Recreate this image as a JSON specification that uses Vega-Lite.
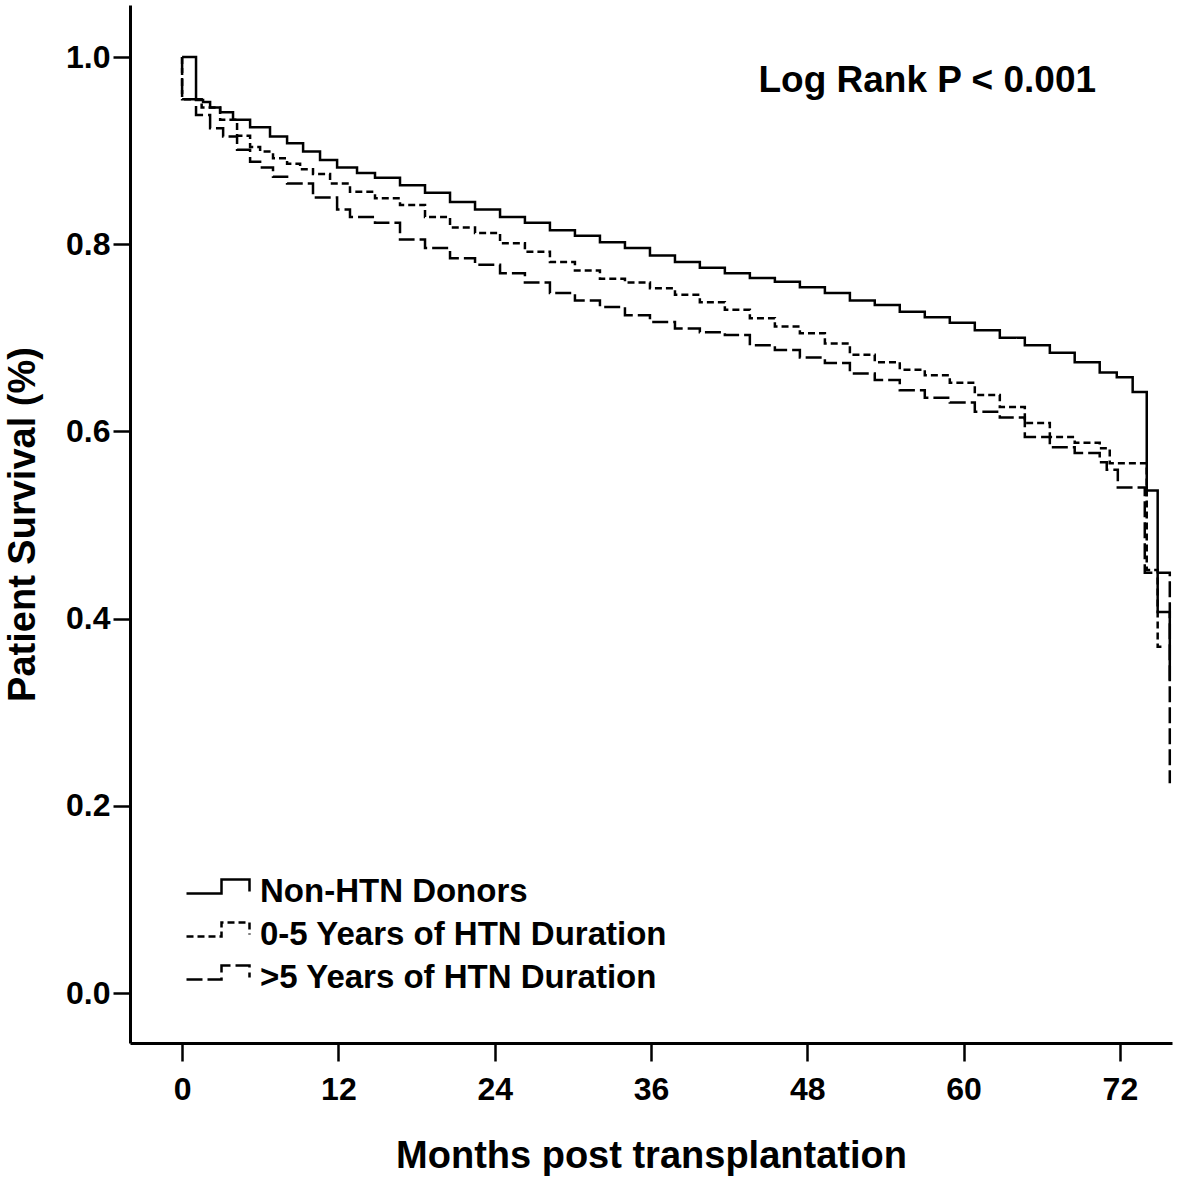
{
  "$schema": "https://vega.github.io/schema/vega-lite/v6.json",
  "width": 1042,
  "height": 1038,
  "autosize": {"type": "none"},
  "padding": {"left": 130, "top": 5, "right": 9, "bottom": 136},
  "background": "white",
  "config": {
    "view": {"stroke": null},
    "font": "Liberation Sans",
    "axis": {
      "grid": false,
      "domainColor": "black",
      "domainWidth": 3,
      "tickColor": "black",
      "tickWidth": 2.5,
      "labelColor": "black",
      "labelFont": "Liberation Sans",
      "labelFontWeight": "bold",
      "labelFontSize": 32,
      "titleColor": "black",
      "titleFont": "Liberation Sans",
      "titleFontWeight": "bold",
      "titleFontSize": 38
    }
  },
  "layer": [
    {
      "data": {
        "values": [
          {"g": "Non-HTN Donors", "t": 0, "s": 1.0},
          {"g": "Non-HTN Donors", "t": 1.07, "s": 0.954},
          {"g": "Non-HTN Donors", "t": 1.61, "s": 0.952},
          {"g": "Non-HTN Donors", "t": 2.15, "s": 0.946},
          {"g": "Non-HTN Donors", "t": 2.92, "s": 0.941},
          {"g": "Non-HTN Donors", "t": 3.91, "s": 0.933},
          {"g": "Non-HTN Donors", "t": 5.22, "s": 0.925},
          {"g": "Non-HTN Donors", "t": 6.75, "s": 0.915},
          {"g": "Non-HTN Donors", "t": 8.06, "s": 0.908},
          {"g": "Non-HTN Donors", "t": 9.29, "s": 0.899},
          {"g": "Non-HTN Donors", "t": 10.59, "s": 0.89},
          {"g": "Non-HTN Donors", "t": 11.9, "s": 0.882},
          {"g": "Non-HTN Donors", "t": 13.43, "s": 0.876},
          {"g": "Non-HTN Donors", "t": 14.81, "s": 0.871},
          {"g": "Non-HTN Donors", "t": 16.73, "s": 0.863},
          {"g": "Non-HTN Donors", "t": 18.65, "s": 0.855},
          {"g": "Non-HTN Donors", "t": 20.57, "s": 0.845},
          {"g": "Non-HTN Donors", "t": 22.49, "s": 0.837},
          {"g": "Non-HTN Donors", "t": 24.41, "s": 0.829},
          {"g": "Non-HTN Donors", "t": 26.32, "s": 0.823},
          {"g": "Non-HTN Donors", "t": 28.24, "s": 0.815},
          {"g": "Non-HTN Donors", "t": 30.16, "s": 0.809},
          {"g": "Non-HTN Donors", "t": 32.08, "s": 0.802},
          {"g": "Non-HTN Donors", "t": 34.0, "s": 0.796},
          {"g": "Non-HTN Donors", "t": 35.92, "s": 0.788},
          {"g": "Non-HTN Donors", "t": 37.84, "s": 0.781},
          {"g": "Non-HTN Donors", "t": 39.75, "s": 0.775},
          {"g": "Non-HTN Donors", "t": 41.67, "s": 0.769},
          {"g": "Non-HTN Donors", "t": 43.59, "s": 0.764},
          {"g": "Non-HTN Donors", "t": 45.51, "s": 0.76},
          {"g": "Non-HTN Donors", "t": 47.43, "s": 0.754},
          {"g": "Non-HTN Donors", "t": 49.35, "s": 0.748},
          {"g": "Non-HTN Donors", "t": 51.27, "s": 0.74},
          {"g": "Non-HTN Donors", "t": 53.18, "s": 0.735},
          {"g": "Non-HTN Donors", "t": 55.1, "s": 0.728},
          {"g": "Non-HTN Donors", "t": 57.02, "s": 0.722},
          {"g": "Non-HTN Donors", "t": 58.94, "s": 0.716},
          {"g": "Non-HTN Donors", "t": 60.86, "s": 0.708},
          {"g": "Non-HTN Donors", "t": 62.78, "s": 0.7},
          {"g": "Non-HTN Donors", "t": 64.7, "s": 0.692},
          {"g": "Non-HTN Donors", "t": 66.62, "s": 0.684},
          {"g": "Non-HTN Donors", "t": 68.53, "s": 0.674},
          {"g": "Non-HTN Donors", "t": 70.45, "s": 0.663},
          {"g": "Non-HTN Donors", "t": 71.76, "s": 0.658},
          {"g": "Non-HTN Donors", "t": 72.98, "s": 0.642},
          {"g": "Non-HTN Donors", "t": 74.06, "s": 0.537},
          {"g": "Non-HTN Donors", "t": 74.9, "s": 0.407},
          {"g": "Non-HTN Donors", "t": 75.83, "s": 0.334},

          {"g": "0-5 Years of HTN Duration", "t": 0, "s": 1.0},
          {"g": "0-5 Years of HTN Duration", "t": 0, "s": 0.955},
          {"g": "0-5 Years of HTN Duration", "t": 1.5, "s": 0.946},
          {"g": "0-5 Years of HTN Duration", "t": 2.92, "s": 0.933},
          {"g": "0-5 Years of HTN Duration", "t": 4.22, "s": 0.916},
          {"g": "0-5 Years of HTN Duration", "t": 5.22, "s": 0.904},
          {"g": "0-5 Years of HTN Duration", "t": 5.99, "s": 0.899},
          {"g": "0-5 Years of HTN Duration", "t": 6.98, "s": 0.892},
          {"g": "0-5 Years of HTN Duration", "t": 8.06, "s": 0.886},
          {"g": "0-5 Years of HTN Duration", "t": 9.06, "s": 0.88},
          {"g": "0-5 Years of HTN Duration", "t": 10.05, "s": 0.875},
          {"g": "0-5 Years of HTN Duration", "t": 11.36, "s": 0.865},
          {"g": "0-5 Years of HTN Duration", "t": 12.89, "s": 0.856},
          {"g": "0-5 Years of HTN Duration", "t": 14.81, "s": 0.849},
          {"g": "0-5 Years of HTN Duration", "t": 16.73, "s": 0.842},
          {"g": "0-5 Years of HTN Duration", "t": 18.65, "s": 0.829},
          {"g": "0-5 Years of HTN Duration", "t": 20.57, "s": 0.818},
          {"g": "0-5 Years of HTN Duration", "t": 22.49, "s": 0.812},
          {"g": "0-5 Years of HTN Duration", "t": 24.41, "s": 0.801},
          {"g": "0-5 Years of HTN Duration", "t": 26.32, "s": 0.792},
          {"g": "0-5 Years of HTN Duration", "t": 28.24, "s": 0.781},
          {"g": "0-5 Years of HTN Duration", "t": 30.16, "s": 0.772},
          {"g": "0-5 Years of HTN Duration", "t": 32.08, "s": 0.763},
          {"g": "0-5 Years of HTN Duration", "t": 34.0, "s": 0.759},
          {"g": "0-5 Years of HTN Duration", "t": 35.92, "s": 0.753},
          {"g": "0-5 Years of HTN Duration", "t": 37.84, "s": 0.746},
          {"g": "0-5 Years of HTN Duration", "t": 39.75, "s": 0.738},
          {"g": "0-5 Years of HTN Duration", "t": 41.67, "s": 0.73},
          {"g": "0-5 Years of HTN Duration", "t": 43.59, "s": 0.721},
          {"g": "0-5 Years of HTN Duration", "t": 45.51, "s": 0.712},
          {"g": "0-5 Years of HTN Duration", "t": 47.43, "s": 0.705},
          {"g": "0-5 Years of HTN Duration", "t": 49.35, "s": 0.694},
          {"g": "0-5 Years of HTN Duration", "t": 51.27, "s": 0.682},
          {"g": "0-5 Years of HTN Duration", "t": 53.18, "s": 0.674},
          {"g": "0-5 Years of HTN Duration", "t": 55.1, "s": 0.666},
          {"g": "0-5 Years of HTN Duration", "t": 57.02, "s": 0.66},
          {"g": "0-5 Years of HTN Duration", "t": 58.94, "s": 0.652},
          {"g": "0-5 Years of HTN Duration", "t": 60.86, "s": 0.639},
          {"g": "0-5 Years of HTN Duration", "t": 62.78, "s": 0.626},
          {"g": "0-5 Years of HTN Duration", "t": 64.7, "s": 0.609},
          {"g": "0-5 Years of HTN Duration", "t": 66.62, "s": 0.594},
          {"g": "0-5 Years of HTN Duration", "t": 68.53, "s": 0.588},
          {"g": "0-5 Years of HTN Duration", "t": 70.45, "s": 0.582},
          {"g": "0-5 Years of HTN Duration", "t": 71.22, "s": 0.566},
          {"g": "0-5 Years of HTN Duration", "t": 74.06, "s": 0.452},
          {"g": "0-5 Years of HTN Duration", "t": 74.9, "s": 0.37},
          {"g": "0-5 Years of HTN Duration", "t": 75.29, "s": 0.37},

          {"g": ">5 Years of HTN Duration", "t": 0, "s": 1.0},
          {"g": ">5 Years of HTN Duration", "t": 0, "s": 0.955},
          {"g": ">5 Years of HTN Duration", "t": 1.07, "s": 0.938},
          {"g": ">5 Years of HTN Duration", "t": 2.15, "s": 0.924},
          {"g": ">5 Years of HTN Duration", "t": 3.15, "s": 0.915},
          {"g": ">5 Years of HTN Duration", "t": 4.22, "s": 0.901},
          {"g": ">5 Years of HTN Duration", "t": 5.22, "s": 0.888},
          {"g": ">5 Years of HTN Duration", "t": 5.99, "s": 0.882},
          {"g": ">5 Years of HTN Duration", "t": 6.98, "s": 0.872},
          {"g": ">5 Years of HTN Duration", "t": 8.06, "s": 0.865},
          {"g": ">5 Years of HTN Duration", "t": 10.05, "s": 0.85},
          {"g": ">5 Years of HTN Duration", "t": 11.9, "s": 0.837},
          {"g": ">5 Years of HTN Duration", "t": 12.89, "s": 0.829},
          {"g": ">5 Years of HTN Duration", "t": 14.81, "s": 0.823},
          {"g": ">5 Years of HTN Duration", "t": 16.73, "s": 0.805},
          {"g": ">5 Years of HTN Duration", "t": 18.65, "s": 0.796},
          {"g": ">5 Years of HTN Duration", "t": 20.57, "s": 0.785},
          {"g": ">5 Years of HTN Duration", "t": 22.49, "s": 0.778},
          {"g": ">5 Years of HTN Duration", "t": 24.41, "s": 0.769},
          {"g": ">5 Years of HTN Duration", "t": 26.32, "s": 0.759},
          {"g": ">5 Years of HTN Duration", "t": 28.24, "s": 0.748},
          {"g": ">5 Years of HTN Duration", "t": 30.16, "s": 0.74},
          {"g": ">5 Years of HTN Duration", "t": 32.08, "s": 0.733},
          {"g": ">5 Years of HTN Duration", "t": 34.0, "s": 0.724},
          {"g": ">5 Years of HTN Duration", "t": 35.92, "s": 0.717},
          {"g": ">5 Years of HTN Duration", "t": 37.84, "s": 0.71},
          {"g": ">5 Years of HTN Duration", "t": 39.75, "s": 0.706},
          {"g": ">5 Years of HTN Duration", "t": 41.67, "s": 0.703},
          {"g": ">5 Years of HTN Duration", "t": 43.59, "s": 0.692},
          {"g": ">5 Years of HTN Duration", "t": 45.51, "s": 0.687},
          {"g": ">5 Years of HTN Duration", "t": 47.43, "s": 0.679},
          {"g": ">5 Years of HTN Duration", "t": 49.35, "s": 0.673},
          {"g": ">5 Years of HTN Duration", "t": 51.27, "s": 0.662},
          {"g": ">5 Years of HTN Duration", "t": 53.18, "s": 0.655},
          {"g": ">5 Years of HTN Duration", "t": 55.1, "s": 0.644},
          {"g": ">5 Years of HTN Duration", "t": 57.02, "s": 0.636},
          {"g": ">5 Years of HTN Duration", "t": 58.94, "s": 0.631},
          {"g": ">5 Years of HTN Duration", "t": 60.86, "s": 0.621},
          {"g": ">5 Years of HTN Duration", "t": 62.78, "s": 0.615},
          {"g": ">5 Years of HTN Duration", "t": 64.7, "s": 0.594},
          {"g": ">5 Years of HTN Duration", "t": 66.62, "s": 0.583},
          {"g": ">5 Years of HTN Duration", "t": 68.53, "s": 0.577},
          {"g": ">5 Years of HTN Duration", "t": 70.45, "s": 0.567},
          {"g": ">5 Years of HTN Duration", "t": 70.99, "s": 0.559},
          {"g": ">5 Years of HTN Duration", "t": 71.84, "s": 0.54},
          {"g": ">5 Years of HTN Duration", "t": 73.91, "s": 0.449},
          {"g": ">5 Years of HTN Duration", "t": 75.83, "s": 0.224}
        ]
      },
      "mark": {"type": "line", "interpolate": "step-after", "color": "black", "strokeWidth": 2.5},
      "encoding": {
        "x": {
          "field": "t",
          "type": "quantitative",
          "scale": {"domain": [-4, 76], "nice": false, "zero": false},
          "axis": {
            "values": [0, 12, 24, 36, 48, 60, 72],
            "tickSize": 18,
            "labelPadding": 13,
            "title": "Months post transplantation",
            "titleY": 124,
            "titleBaseline": "alphabetic"
          }
        },
        "y": {
          "field": "s",
          "type": "quantitative",
          "scale": {"domain": [-0.0534, 1.0556], "nice": false, "zero": false},
          "axis": {
            "values": [0, 0.2, 0.4, 0.6, 0.8, 1.0],
            "format": ".1f",
            "tickSize": 17,
            "labelPadding": 3,
            "title": "Patient Survival (%)",
            "titleX": -96,
            "titleBaseline": "alphabetic"
          }
        },
        "strokeDash": {
          "field": "g",
          "type": "nominal",
          "scale": {
            "domain": ["Non-HTN Donors", "0-5 Years of HTN Duration", ">5 Years of HTN Duration"],
            "range": [[1, 0], [7, 4], [16, 5]]
          },
          "legend": {
            "title": null,
            "orient": "none",
            "legendX": 65.5,
            "legendY": 864,
            "padding": 0,
            "rowPadding": 3,
            "symbolType": "M-1.5,0.095H0.167V-0.571H1.5V0",
            "symbolSize": 1764,
            "symbolStrokeWidth": 2.5,
            "symbolStrokeColor": "black",
            "symbolFillColor": "transparent",
            "labelOffset": 19.5,
            "labelFont": "Liberation Sans",
            "labelFontWeight": "bold",
            "labelFontSize": 33,
            "labelColor": "black",
            "labelLimit": 1000
          }
        },
        "order": {"value": null}
      }
    },
    {
      "data": {"values": [{"label": "Log Rank P < 0.001"}]},
      "mark": {"type": "text", "align": "center", "baseline": "alphabetic", "fontSize": 37, "fontWeight": "bold", "font": "Liberation Sans", "color": "black"},
      "encoding": {
        "x": {"datum": 57.21, "type": "quantitative"},
        "y": {"datum": 0.9626, "type": "quantitative"},
        "text": {"field": "label"}
      }
    }
  ]
}
